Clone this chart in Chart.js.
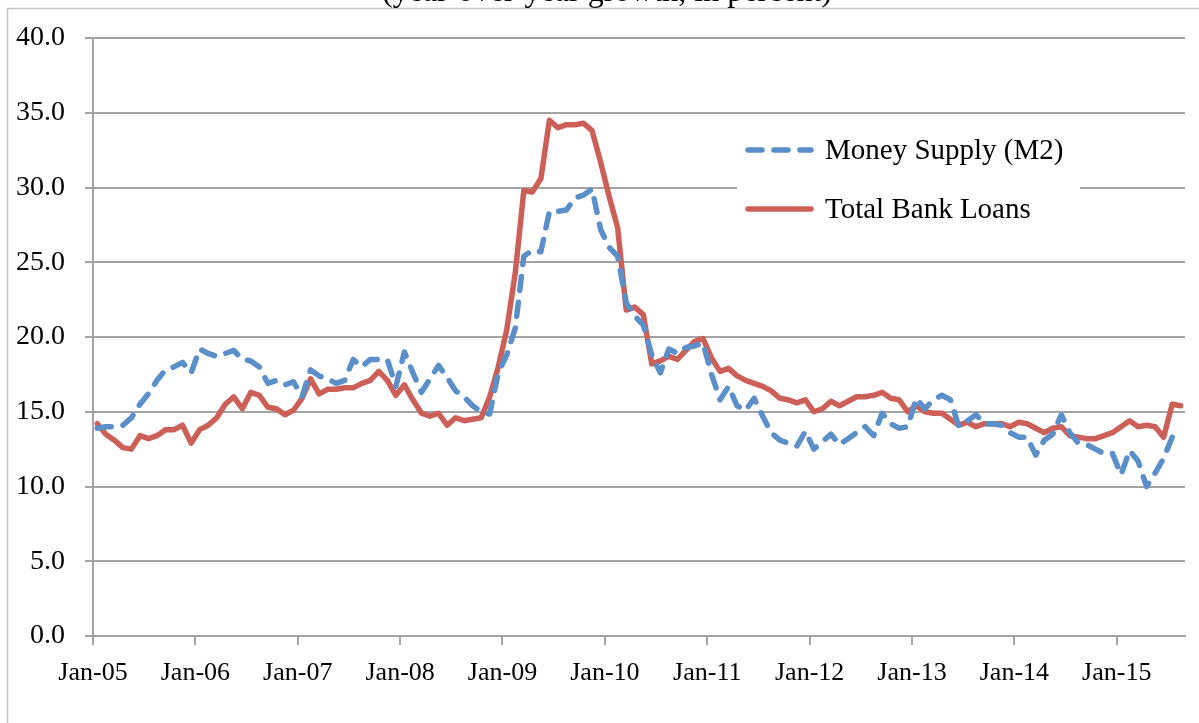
<!DOCTYPE html>
<html><head><meta charset="utf-8">
<script src="https://cdn.jsdelivr.net/npm/chart.js@4/dist/chart.umd.min.js"></script>
<style>html,body{margin:0;padding:0;background:#fff;overflow:hidden}</style>
</head><body>
<canvas id="c" width="1199" height="723"></canvas>
<script>
// ---- data (monthly, Jan-2005 .. Aug-2015) ----
const startYear = 2005;
const monthCount = 128;
const m2Growth = [
 13.9, 14.0, 14.0, 14.1, 14.6, 15.5, 16.2, 17.1, 17.8, 18.0, 18.3, 17.6,
 19.2, 18.9, 18.7, 18.9, 19.1, 18.5, 18.4, 18.0, 16.9, 17.1, 16.8, 17.0,
 16.0, 17.8, 17.4, 17.2, 16.9, 17.1, 18.5, 18.0, 18.5, 18.5, 18.5, 16.7,
 19.0, 17.6, 16.3, 17.2, 18.1, 17.3, 16.4, 16.0, 15.4, 15.0, 14.85, 17.6,
 18.8, 20.6, 25.4, 25.8, 25.7, 28.4, 28.4, 28.5, 29.3, 29.5, 29.9, 27.2,
 26.0, 25.4, 22.3, 21.4, 20.8, 18.8, 17.6, 19.2, 18.9, 19.3, 19.4, 19.6,
 17.5, 15.8, 16.7, 15.4, 15.1, 15.9, 14.7, 13.6, 13.1, 12.9, 12.7, 13.7,
 12.5, 13.0, 13.5, 12.8, 13.2, 13.6, 14.0, 13.4, 14.9, 14.2, 13.9, 14.0,
 15.9, 15.2, 15.8, 16.1, 15.8, 14.0, 14.4, 14.8, 14.2, 14.2, 14.1, 13.6,
 13.3, 13.3, 12.1, 13.1, 13.5, 14.8, 13.6, 12.9, 12.8, 12.5, 12.2, 12.2,
 10.8, 12.4, 11.7, 10.0, 10.9, 11.9, 13.3, 13.3
];
const loanGrowth = [
 14.2, 13.5, 13.1, 12.6, 12.5, 13.4, 13.2, 13.4, 13.8, 13.8, 14.1, 12.9,
 13.8, 14.1, 14.6, 15.5, 16.0, 15.2, 16.3, 16.1, 15.3, 15.2, 14.8, 15.1,
 15.9, 17.2, 16.2, 16.5, 16.5, 16.6, 16.6, 16.9, 17.1, 17.7, 17.1, 16.1,
 16.8, 15.8, 14.9, 14.7, 14.9, 14.1, 14.6, 14.4, 14.5, 14.6, 16.0, 18.0,
 20.5, 24.3, 29.8, 29.7, 30.6, 34.5, 34.0, 34.2, 34.2, 34.3, 33.8, 31.7,
 29.4, 27.3, 21.8, 22.0, 21.5, 18.2, 18.4, 18.7, 18.5, 19.1, 19.7, 19.9,
 18.6, 17.7, 17.9, 17.4, 17.1, 16.9, 16.7, 16.4, 15.9, 15.8, 15.6, 15.8,
 15.0, 15.2, 15.7, 15.4, 15.7, 16.0, 16.0, 16.1, 16.3, 15.9, 15.8, 15.0,
 15.4, 15.0, 14.9, 14.9, 14.5, 14.1, 14.3, 14.0, 14.2, 14.2, 14.2, 14.0,
 14.3, 14.2, 13.9, 13.6, 13.9, 14.0, 13.4, 13.3, 13.2, 13.2, 13.4, 13.6,
 14.0, 14.4, 14.0, 14.1, 14.0, 13.3, 15.5, 15.4
];
const tickYears = [2005, 2006, 2007, 2008, 2009, 2010, 2011, 2012, 2013, 2014, 2015];
const tickLabels = ['Jan-05','Jan-06','Jan-07','Jan-08','Jan-09','Jan-10','Jan-11','Jan-12','Jan-13','Jan-14','Jan-15'];
const seriesNames = ['Money Supply (M2)', 'Total Bank Loans'];
const titleText = '(year-over-year growth, in percent)';

// month index -> mid-month position on a year axis
const toPoints = arr => arr.map((v, i) => ({ x: startYear + (i + 0.5) / 12, y: v }));

const FONT = '"Liberation Serif", "Times New Roman", serif';
const GRID = '#a3a3a3';

const framePlugin = {
  id: 'frame',
  beforeDraw(chart) {
    const ctx = chart.ctx;
    ctx.save();
    ctx.fillStyle = '#fff';
    ctx.fillRect(0, 0, chart.width, chart.height);
    ctx.strokeStyle = '#c4c4c4';
    ctx.lineWidth = 1.5;
    ctx.beginPath();
    ctx.moveTo(7.5, chart.height + 2);
    ctx.lineTo(7.5, 8.5);
    ctx.lineTo(chart.width + 2, 8.5);
    ctx.stroke();
    ctx.fillStyle = '#000';
    ctx.font = '32px ' + FONT;
    ctx.textAlign = 'center';
    ctx.textBaseline = 'alphabetic';
    ctx.fillText(titleText, 607, 1);
    ctx.restore();
  }
};

const legendPlugin = {
  id: 'insideLegend',
  afterDatasetsDraw(chart) {
    const ctx = chart.ctx;
    ctx.save();
    ctx.fillStyle = '#fff';
    ctx.fillRect(737, 122, 343, 116);
    chart.data.datasets.forEach((ds, i) => {
      const y = 150 + i * 59;
      ctx.strokeStyle = ds.borderColor;
      ctx.lineWidth = ds.borderWidth;
      ctx.lineCap = 'round';
      ctx.setLineDash(ds.borderDash || []);
      ctx.beginPath();
      ctx.moveTo(748, y);
      ctx.lineTo(811, y);
      ctx.stroke();
      ctx.setLineDash([]);
      ctx.fillStyle = '#000';
      ctx.font = '29px ' + FONT;
      ctx.textAlign = 'left';
      ctx.textBaseline = 'middle';
      ctx.fillText(ds.label, 825, y + 1);
    });
    ctx.restore();
  }
};

new Chart(document.getElementById('c'), {
  type: 'line',
  data: {
    datasets: [
      { label: seriesNames[0], data: toPoints(m2Growth), borderColor: '#5B8FCA', borderWidth: 5.5,
        borderDash: [14, 12], borderCapStyle: 'round', borderJoinStyle: 'round', pointRadius: 0, tension: 0, fill: false },
      { label: seriesNames[1], data: toPoints(loanGrowth), borderColor: '#CC5F57', borderWidth: 5.5,
        borderCapStyle: 'round', borderJoinStyle: 'round', pointRadius: 0, tension: 0, fill: false }
    ]
  },
  options: {
    responsive: false,
    devicePixelRatio: 1,
    animation: false,
    layout: { padding: { left: 0, right: 14, top: 38, bottom: 0 } },
    plugins: { legend: { display: false }, tooltip: { enabled: false }, title: { display: false } },
    scales: {
      x: {
        type: 'linear',
        min: startYear,
        max: startYear + monthCount / 12,
        afterBuildTicks: s => { s.ticks = tickYears.map(v => ({ value: v })); },
        afterFit: s => { s.height = 87; },
        ticks: { callback: (v, i) => tickLabels[i], color: '#000', font: { family: FONT, size: 26 }, padding: 13, maxRotation: 0, autoSkip: false },
        grid: { drawOnChartArea: false, drawTicks: true, tickLength: 9, color: GRID, lineWidth: 2 },
        border: { display: true, color: GRID, width: 2 }
      },
      y: {
        min: 0, max: 40,
        afterFit: s => { s.width = 93; },
        ticks: { stepSize: 5, callback: v => v.toFixed(1), color: '#000', font: { family: FONT, size: 28 }, padding: 20 },
        grid: { color: GRID, lineWidth: 2, drawTicks: true, tickLength: 8 },
        border: { display: true, color: GRID, width: 2 }
      }
    }
  },
  plugins: [framePlugin, legendPlugin]
});
</script>
</body></html>
